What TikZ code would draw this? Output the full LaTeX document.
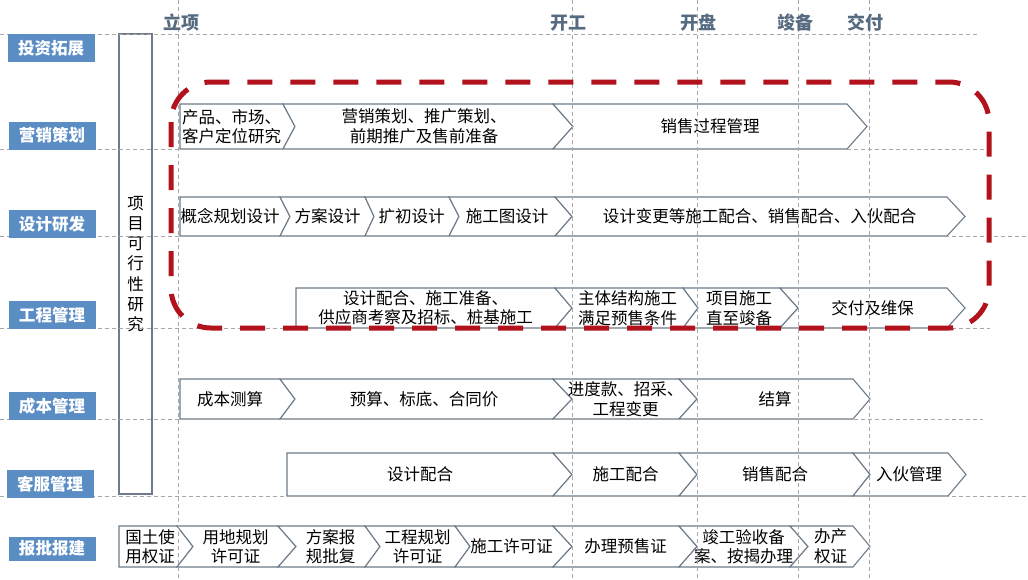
\documentclass[tikz,border=0pt]{standalone}
\usepackage{fontspec}
\setmainfont{Noto Sans CJK SC}
\definecolor{chevgray}{HTML}{6D7B8A}
\definecolor{labelblue}{HTML}{5B8DC5}
\definecolor{headcol}{HTML}{566A80}
\definecolor{boxred}{HTML}{B2121C}
\definecolor{gridgray}{HTML}{A8A8A8}
\tikzset{
  chevline/.style={draw=chevgray, line width=1.1pt, fill=white, line join=miter},
  chevtext/.style={font=\fontsize{16.5}{19.5}\selectfont, align=center, inner sep=0pt, text=black},
  rowlabel/.style={fill=labelblue, text=white, font=\bfseries\fontsize{16.5}{18}\selectfont, minimum width=87pt, minimum height=28pt, inner sep=0pt},
  headtext/.style={text=headcol, font=\bfseries\fontsize{18}{19}\selectfont, inner sep=0pt},
  gridline/.style={draw=gridgray, line width=0.7pt, dash pattern=on 4pt off 3pt},
  reddash/.style={draw=boxred, line width=5pt, dash pattern=on 25pt off 18pt, rounded corners=40pt},
}
\newcommand{\chev}[9][]{%
  \draw[chevline] (#3,#7) -- (#5,#7) -- (#6,{(#7+#8)/2}) -- (#5,#8) -- (#3,#8) -- (#4,{(#7+#8)/2}) -- cycle;
  \node[chevtext,#1] (#2) at ({(#4+#5)/2},{(#7+#8)/2}) {#9};
}
\begin{document}
\begin{tikzpicture}[x=1pt,y=-1pt]
\useasboundingbox (0,0) rectangle (1028,579);
\fill[white] (0,0) rectangle (1028,579);

% row 1: marketing
\chev[align=left]{m1}{180}{180}{283}{295}{104}{149}{产品、市场、\\客户定位研究}
\chev{m2}{283}{295}{553}{573}{104}{149}{营销策划、推广策划、\\前期推广及售前准备}
\chev{m3}{553}{573}{847}{867}{104}{149}{销售过程管理}

% row 2: design
\chev{d1}{180}{180}{280}{290}{197}{236}{概念规划设计}
\chev{d2}{280}{290}{365}{374}{197}{236}{方案设计}
\chev{d3}{365}{374}{449}{459}{197}{236}{扩初设计}
\chev{d4}{449}{459}{555}{572}{197}{236}{施工图设计}
\chev{d5}{555}{572}{947}{965}{197}{236}{设计变更等施工配合、销售配合、入伙配合}

% row 3: engineering
\chev{e1}{296}{296}{555}{572}{288}{328}{设计配合、施工准备、\\供应商考察及招标、桩基施工}
\chev{e2}{555}{572}{683}{698}{288}{328}{主体结构施工\\满足预售条件}
\chev{e3}{683}{698}{780}{798}{288}{328}{项目施工\\直至竣备}
\chev{e4}{780}{798}{947}{965}{288}{328}{交付及维保}

% row 4: cost
\chev{f1}{180}{180}{280}{295}{379}{419}{成本测算}
\chev{f2}{280}{295}{553}{572}{379}{419}{预算、标底、合同价}
\chev{f3}{553}{572}{679}{697}{379}{419}{进度款、招采、\\工程变更}
\chev{f4}{679}{697}{853}{870}{379}{419}{结算}

% row 5: customer service
\chev{g1}{287}{287}{553}{572}{453}{496}{设计配合}
\chev{g2}{553}{572}{679}{697}{453}{496}{施工配合}
\chev{g3}{679}{697}{853}{870}{453}{496}{销售配合}
\chev{g4}{853}{870}{948}{966}{453}{496}{入伙管理}

% row 6: approvals
\chev[xshift=2pt]{h1}{119}{119}{177}{193}{526}{567}{国土使\\用权证}
\chev{h2}{177}{193}{278}{296}{526}{567}{用地规划\\许可证}
\chev{h3}{278}{296}{365}{380}{526}{567}{方案报\\规批复}
\chev{h4}{365}{380}{455}{470}{526}{567}{工程规划\\许可证}
\chev{h5}{455}{470}{553}{572}{526}{567}{施工许可证}
\chev{h6}{553}{572}{679}{697}{526}{567}{办理预售证}
\chev{h7}{679}{697}{790}{808}{526}{567}{竣工验收备\\案、按揭办理}
\chev{h8}{790}{808}{853}{870}{526}{567}{办产\\权证}

% feasibility box
\draw[draw=chevgray, line width=1.1pt, fill=white] (119,34) rectangle (152,494);
\node[chevtext, font=\fontsize{16.5}{20.3}\selectfont] (feas) at (135.5,264) {项\\目\\可\\行\\性\\研\\究};

% grid lines
\draw[gridline] (0,34) -- (978,34);
\draw[gridline] (0,149) -- (985,149);
\draw[gridline] (0,236) -- (1028,236);
\draw[gridline] (0,328) -- (990,328);
\draw[gridline] (0,419) -- (983,419);
\draw[gridline] (0,496) -- (1028,496);
\foreach \xx in {178,572,697,798,869} {
  \draw[gridline] (\xx,0) -- (\xx,579);
}

% headers
\node[headtext] (h-lixiang) at (181,23) {立项};
\node[headtext] (h-kaigong) at (568,23) {开工};
\node[headtext] (h-kaipan) at (698,23) {开盘};
\node[headtext] (h-junbei) at (795,23) {竣备};
\node[headtext] (h-jiaofu) at (865,23) {交付};

% row labels
\node[rowlabel] (l1) at (51,48) {投资拓展};
\node[rowlabel] (l2) at (52,135.5) {营销策划};
\node[rowlabel] (l3) at (52,224) {设计研发};
\node[rowlabel] (l4) at (52,315) {工程管理};
\node[rowlabel] (l5) at (52,406) {成本管理};
\node[rowlabel] (l6) at (50,484) {客服管理};
\node[rowlabel, minimum height=24pt] (l7) at (52,548.5) {报批报建};

% red dashed frame
\draw[reddash] (171,82) rectangle (989,328);
\end{tikzpicture}
\end{document}
